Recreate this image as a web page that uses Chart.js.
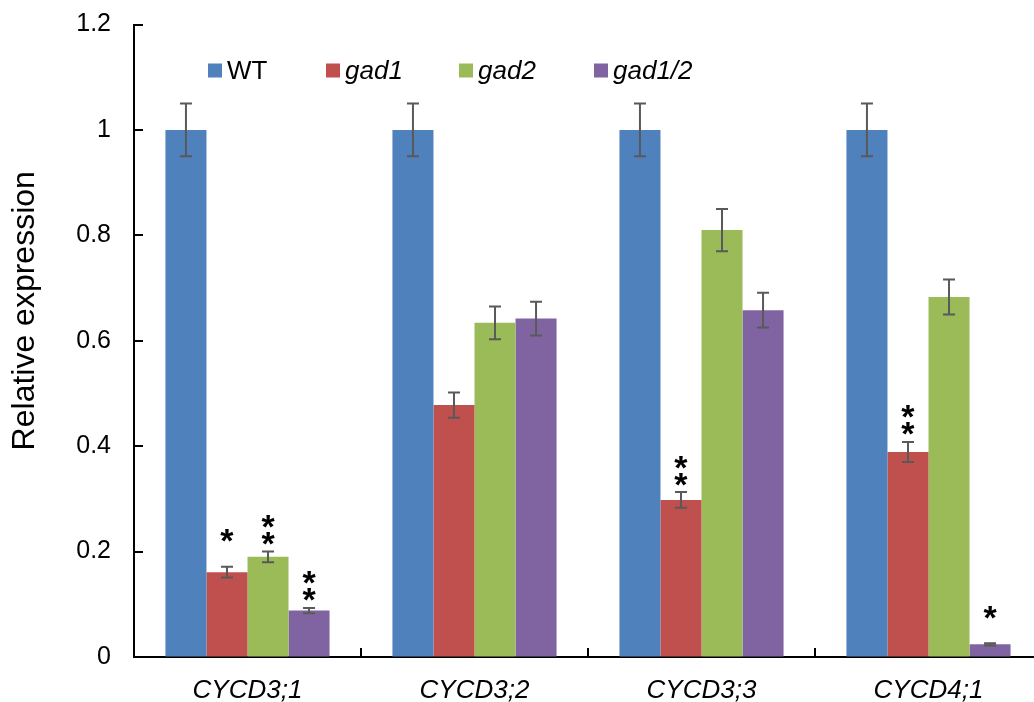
<!DOCTYPE html>
<html>
<head>
<meta charset="utf-8">
<script src="https://cdn.jsdelivr.net/npm/chart.js@4"></script>
<style>
  html, body { margin: 0; padding: 0; background: #fff; overflow: hidden; }
  #wrap { width: 1060px; height: 702px; }
</style>
</head>
<body>
<div id="wrap"><canvas id="myChart" width="1060" height="702"></canvas></div>
<script>
// data
var genes = ["CYCD3;1", "CYCD3;2", "CYCD3;3", "CYCD4;1"]
var seriesNames = ["WT", "gad1", "gad2", "gad1/2"]

var wt = [1, 1, 1, 1]
var gad1 = [0.161, 0.478, 0.298, 0.389]
var gad2 = [0.190, 0.634, 0.810, 0.683]
var gad12 = [0.088, 0.642, 0.658, 0.024]

var errWt = [0.05, 0.05, 0.05, 0.05]
var errGad1 = [0.010, 0.024, 0.015, 0.019]
var errGad2 = [0.010, 0.031, 0.040, 0.033]
var errGad12 = [0.005, 0.032, 0.033, 0.002]

// number of asterisks above each bar
var starsWt = [0, 0, 0, 0]
var starsGad1 = [1, 0, 2, 2]
var starsGad2 = [2, 0, 0, 0]
var starsGad12 = [2, 0, 0, 1]

var yTickLabels = ["0", "0.2", "0.4", "0.6", "0.8", "1", "1.2"]

var colors = ["#4F81BD", "#C0504D", "#9BBB59", "#8064A2"]
var FONT = "'Liberation Sans', Arial, sans-serif"

var values = [wt, gad1, gad2, gad12]
var errors = [errWt, errGad1, errGad2, errGad12]
var stars = [starsWt, starsGad1, starsGad2, starsGad12]

var datasets = seriesNames.map(function(name, i){
    return {
        label: name,
        data: values[i],
        backgroundColor: colors[i],
        borderWidth: 0,
        categoryPercentage: 0.723,
        barPercentage: 1.0
    }
})

// error bars + asterisks
var errorBars = {
    id: 'errorBars',
    afterDatasetsDraw: function(chart){
        var ctx = chart.ctx
        var y = chart.scales.y
        ctx.save()
        chart.data.datasets.forEach(function(ds, di){
            var meta = chart.getDatasetMeta(di)
            meta.data.forEach(function(bar, i){
                var v = values[di][i], e = errors[di][i]
                var top = y.getPixelForValue(v + e)
                var bot = y.getPixelForValue(v - e)
                ctx.strokeStyle = "#595959"
                ctx.lineWidth = 2
                ctx.beginPath()
                ctx.moveTo(bar.x, top); ctx.lineTo(bar.x, bot)
                ctx.moveTo(bar.x - 6, top); ctx.lineTo(bar.x + 6, top)
                ctx.moveTo(bar.x - 6, bot); ctx.lineTo(bar.x + 6, bot)
                ctx.stroke()

                var n = stars[di][i]
                if (n > 0) {
                    ctx.font = "bold 34px " + FONT
                    ctx.fillStyle = "#000"
                    ctx.textAlign = "center"
                    ctx.textBaseline = "alphabetic"
                    var m = ctx.measureText("*")
                    var mid = (m.actualBoundingBoxAscent - m.actualBoundingBoxDescent) / 2
                    var gap = n === 1 ? 31 : 13
                    for (var k = 0; k < n; k++) {
                        var cy = top - gap - k * 17
                        ctx.fillText("*", bar.x, cy + mid)
                    }
                }
            })
        })
        ctx.restore()
    }
}

// inward tick marks, legend and y title
var decorations = {
    id: 'decorations',
    afterDraw: function(chart){
        var ctx = chart.ctx
        var area = chart.chartArea
        var x = chart.scales.x, y = chart.scales.y
        ctx.save()
        ctx.strokeStyle = "#000"
        ctx.lineWidth = 2
        ctx.beginPath()
        y.ticks.forEach(function(t){
            var py = Math.round(y.getPixelForValue(t.value))
            ctx.moveTo(area.left, py); ctx.lineTo(area.left + 9, py)
        })
        for (var i = 0; i < genes.length - 1; i++) {
            var px = Math.round((x.getPixelForTick(i) + x.getPixelForTick(i + 1)) / 2)
            ctx.moveTo(px, area.bottom); ctx.lineTo(px, area.bottom - 9)
        }
        ctx.stroke()

        // legend
        var legendX = [74, 192, 325, 460]
        var ly = area.top + 46
        ctx.textAlign = "left"
        ctx.textBaseline = "middle"
        seriesNames.forEach(function(name, i){
            var bx = area.left + legendX[i]
            ctx.fillStyle = colors[i]
            ctx.fillRect(bx, ly - 7, 14, 14)
            ctx.fillStyle = "#000"
            ctx.font = (i === 0 ? "" : "italic ") + "26px " + FONT
            ctx.fillText(name, bx + 19, ly + 1)
        })

        // y title
        ctx.translate(25, (area.top + area.bottom) / 2 - 30)
        ctx.rotate(-Math.PI / 2)
        ctx.textAlign = "center"
        ctx.font = "32px " + FONT
        ctx.fillText("Relative expression", 0, 0)
        ctx.restore()
    }
}

var myChart = new Chart(document.getElementById("myChart").getContext('2d'), {
    type: 'bar',
    data: { labels: genes, datasets: datasets },
    options: {
        responsive: false,
        animation: false,
        layout: { padding: { top: 24.5, right: 18, bottom: 0, left: 0 } },
        plugins: { legend: { display: false }, tooltip: { enabled: false } },
        scales: {
            x: {
                grid: { display: true, drawOnChartArea: false, drawTicks: false },
                border: { display: true, color: "#000", width: 2 },
                ticks: { color: "#000", padding: 18, font: { family: FONT, size: 26, style: 'italic' } },
                afterFit: function(s){ s.height = 45; s.paddingLeft = 0; s.paddingRight = 0 }
            },
            y: {
                min: 0, max: 1.2,
                grid: { display: true, drawOnChartArea: false, drawTicks: false },
                border: { display: true, color: "#000", width: 2 },
                ticks: {
                    stepSize: 0.2, color: "#000", padding: 23,
                    font: { family: FONT, size: 25 },
                    callback: function(v, i){ return yTickLabels[i] }
                },
                afterFit: function(s){ s.width = 134; s.paddingTop = 0; s.paddingBottom = 0 }
            }
        }
    },
    plugins: [errorBars, decorations]
})
</script>
</body>
</html>
